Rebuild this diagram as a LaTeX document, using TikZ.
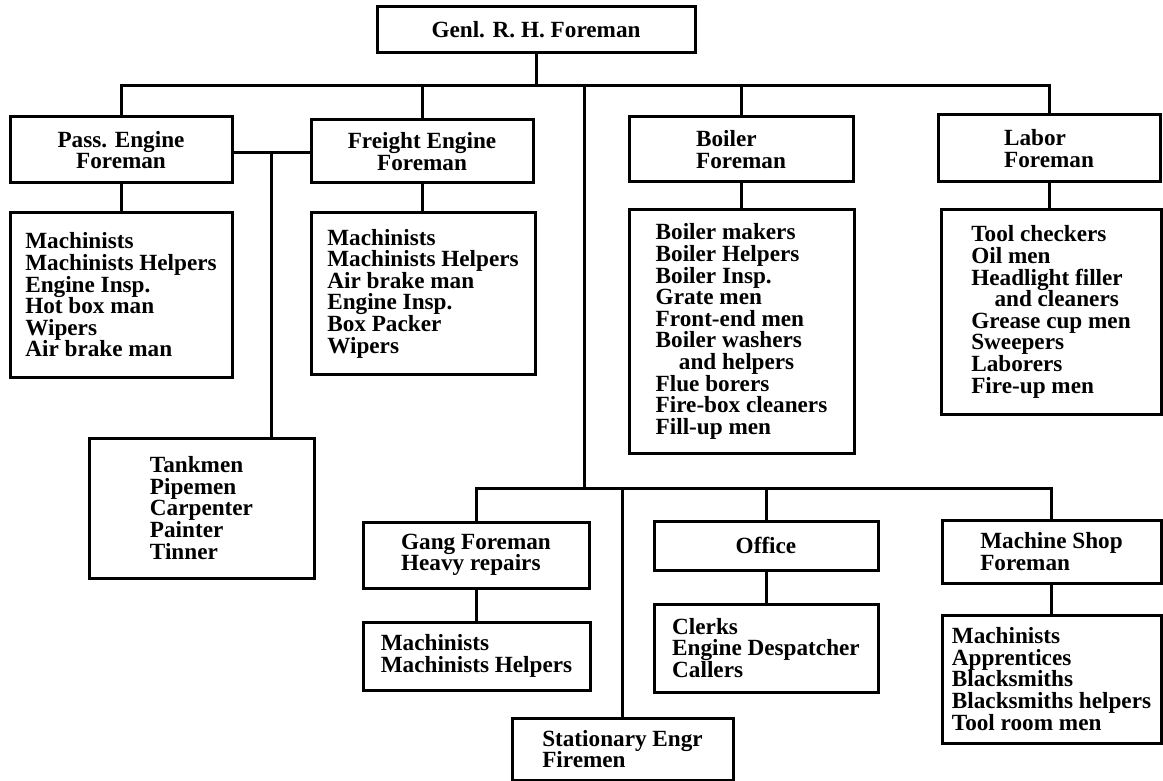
\documentclass[tikz,border=0pt]{standalone}
\usepackage{fontspec}
\setmainfont{Liberation Serif}
\begin{document}
\begin{tikzpicture}[x=0.5pt,y=-0.5pt,
  every node/.style={font=\bfseries\fontsize{11.6pt}{10.8pt}\selectfont},
  box/.style={draw, line width=1.5pt, inner sep=0pt, align=left},
  cbox/.style={box, align=center},
  link/.style={line width=1.5pt}]
\useasboundingbox (0,0) rectangle (1163,781);
% top
\node[cbox, minimum width=159pt, minimum height=23pt] (top) at (536,30) {Genl. R. H. Foreman};
% first level
\node[cbox, minimum width=111pt, minimum height=33pt] (pass) at (121,150) {Pass. Engine\\Foreman};
\node[box, minimum width=111pt, minimum height=82pt] (passl) at (121,295) {Machinists\\Machinists Helpers\\Engine Insp.\\Hot box man\\Wipers\\Air brake man};
\node[cbox, minimum width=111pt, minimum height=31.5pt] (freight) at (422,151.5) {Freight Engine\\Foreman};
\node[box, minimum width=112pt, minimum height=80.5pt] (freightl) at (423,293.5) {Machinists\\Machinists Helpers\\Air brake man\\Engine Insp.\\Box Packer\\Wipers};
\node[box, minimum width=112pt, minimum height=32.5pt] (boiler) at (741,149.5) {Boiler\\Foreman};
\node[box, minimum width=112.5pt, minimum height=121.5pt] (boilerl) at (741.5,331.5) {Boiler makers\\Boiler Helpers\\Boiler Insp.\\Grate men\\Front-end men\\Boiler washers\\\hspace*{1em}and helpers\\Flue borers\\Fire-box cleaners\\Fill-up men};
\node[box, minimum width=111pt, minimum height=33.5pt] (labor) at (1049,148.5) {Labor\\Foreman};
\node[box, minimum width=110pt, minimum height=102pt] (laborl) at (1051,312) {Tool checkers\\Oil men\\Headlight filler\\\hspace*{1em}and cleaners\\Grease cup men\\Sweepers\\Laborers\\Fire-up men};
\node[box, minimum width=112.5pt, minimum height=70pt] (tank) at (201.5,508) {Tankmen\\Pipemen\\Carpenter\\Painter\\Tinner};
% second level
\node[box, minimum width=113pt, minimum height=33pt] (gang) at (476,555) {Gang Foreman\\Heavy repairs};
\node[box, minimum width=113.5pt, minimum height=34pt] (gangl) at (476.5,656) {Machinists\\Machinists Helpers};
\node[cbox, minimum width=112pt, minimum height=24.5pt] (office) at (766,545.5) {Office};
\node[box, minimum width=112pt, minimum height=44pt] (officel) at (766,648) {Clerks\\Engine Despatcher\\Callers};
\node[box, minimum width=109.5pt, minimum height=31.5pt] (machine) at (1051.5,551.5) {Machine Shop\\Foreman};
\node[box, minimum width=109.5pt, minimum height=64pt] (machinel) at (1051.5,679) {Machinists\\Apprentices\\Blacksmiths\\Blacksmiths helpers\\Tool room men};
\node[box, minimum width=110.5pt, minimum height=31pt] (stat) at (622.5,749) {Stationary Engr\\Firemen};
% connectors
\coordinate (b1) at (536,86);
\coordinate (j1) at (584,86);
\coordinate (b2) at (584,488);
\coordinate (tk) at (271,153);
\draw[link] (top.south) -- (b1);
\draw[link] (pass.north) -- (pass.north |- b1) -- (labor.north |- b1) -- (labor.north);
\draw[link] (freight.north) -- (freight.north |- b1);
\draw[link] (boiler.north) -- (boiler.north |- b1);
\draw[link] (j1) -- (b2);
\draw[link] (gang.north) -- (gang.north |- b2) -- (machine.north |- b2) -- (machine.north);
\draw[link] (office.north) -- (office.north |- b2);
\draw[link] (stat.north) -- (stat.north |- b2);
\draw[link] (pass.east |- tk) -- (freight.west |- tk);
\draw[link] (tk) -- (tk |- tank.north);
\draw[link] (pass.south) -- (passl.north);
\draw[link] (freight.south) -- (freight.south |- freightl.north);
\draw[link] (boiler.south) -- (boiler.south |- boilerl.north);
\draw[link] (labor.south) -- (labor.south |- laborl.north);
\draw[link] (gang.south) -- (gang.south |- gangl.north);
\draw[link] (office.south) -- (office.south |- officel.north);
\draw[link] (machine.south) -- (machine.south |- machinel.north);
\end{tikzpicture}
\end{document}
